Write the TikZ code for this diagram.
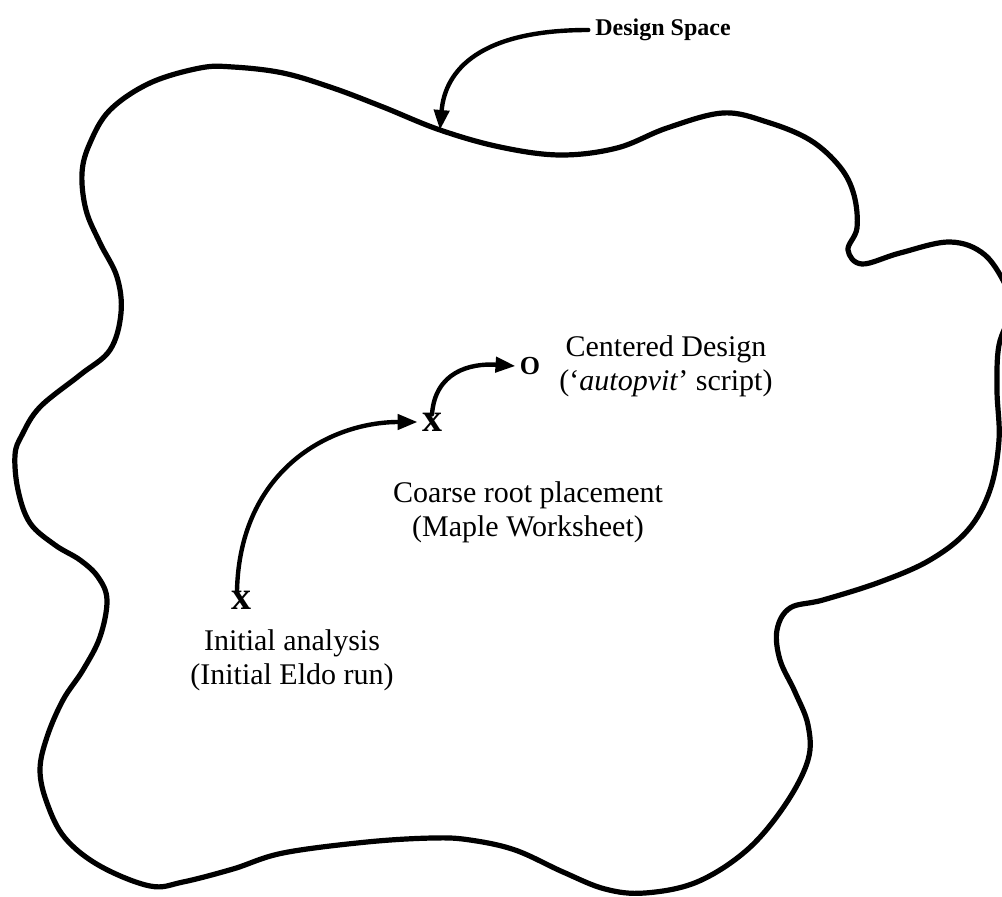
\documentclass[tikz,border=0pt]{standalone}
\usepackage{fontspec}
\setmainfont{Liberation Serif}
\usepackage{tikz}
\usetikzlibrary{arrows.meta, positioning}

\begin{document}
\begin{tikzpicture}[x=0.5pt, y=-0.5pt, line cap=round, line join=round,
  every node/.style={font=\fontsize{15}{17}\selectfont},
  spot/.style={font=\fontsize{20}{20}\selectfont\bfseries, inner sep=2pt},
  lbl/.style={align=center},
  >={Triangle[length=10pt, width=7.5pt]}]
  \useasboundingbox (0,0) rectangle (1002,897);

  % Design space outline
  \draw[line width=2.6pt] plot[smooth cycle, tension=0.6] coordinates {
    (440,130) (500,147) (560,155) (617,148) (667,128) (723,113) (767,122)
    (810,140) (840,167) (854,195) (857,228) (848,250) (862,264) (900,253)
    (950,242) (985,255) (1008,290) (1012,310) (999,345) (997,390) (999,440)
    (990,490) (968,530) (930,560) (880,582) (823,600) (790,608) (777,630)
    (780,660) (795,692) (808,725) (808,760) (785,805) (747,850) (697,882)
    (645,893) (605,889) (563,872) (515,850) (470,840) (433,838) (367,842)
    (283,853) (233,869) (183,882) (150,886) (100,866) (65,838) (47,803)
    (40,770) (47,737) (63,700) (83,670) (100,637) (107,600) (98,577)
    (80,560) (55,545) (30,523) (18,490) (15,455) (22,435) (40,407)
    (80,375) (110,350) (121,313) (117,277) (100,243) (86,210) (82,173)
    (90,143) (110,110) (150,83) (200,68) (233,67) (283,73) (333,88) (383,107)};

  % Title
  \node[font=\fontsize{12}{14}\selectfont\bfseries] (ds) at (663,30) {Design Space};
  \coordinate (touch) at (440,130);
  \draw[->, line width=2.2pt] (ds.west) .. controls (480,30) and (445,70) .. (touch);

  % Steps
  \node[spot] (init) at (241,600) {x};
  \node[spot] (coarse) at (432,422) {x};
  \node[spot, font=\fontsize{13}{13}\selectfont\bfseries] (cent) at (530,366) {O};

  \node[lbl] (initlbl) at (292,660) {Initial analysis\\(Initial Eldo run)};
  \node[lbl] (coarselbl) at (528,512) {Coarse root placement\\(Maple Worksheet)};
  \node[lbl] (centlbl) at (666,366) {Centered Design\\(‘\textit{autopvit}’ script)};

  \draw[->, line width=2.2pt] ([xshift=-2pt,yshift=-2pt]init.north) .. controls (240,470) and (330,422) .. (coarse.west);
  \draw[->, line width=2.2pt] ([yshift=-3pt]coarse.north) .. controls (435,372) and (470,363) .. (cent.west);
\end{tikzpicture}
\end{document}
